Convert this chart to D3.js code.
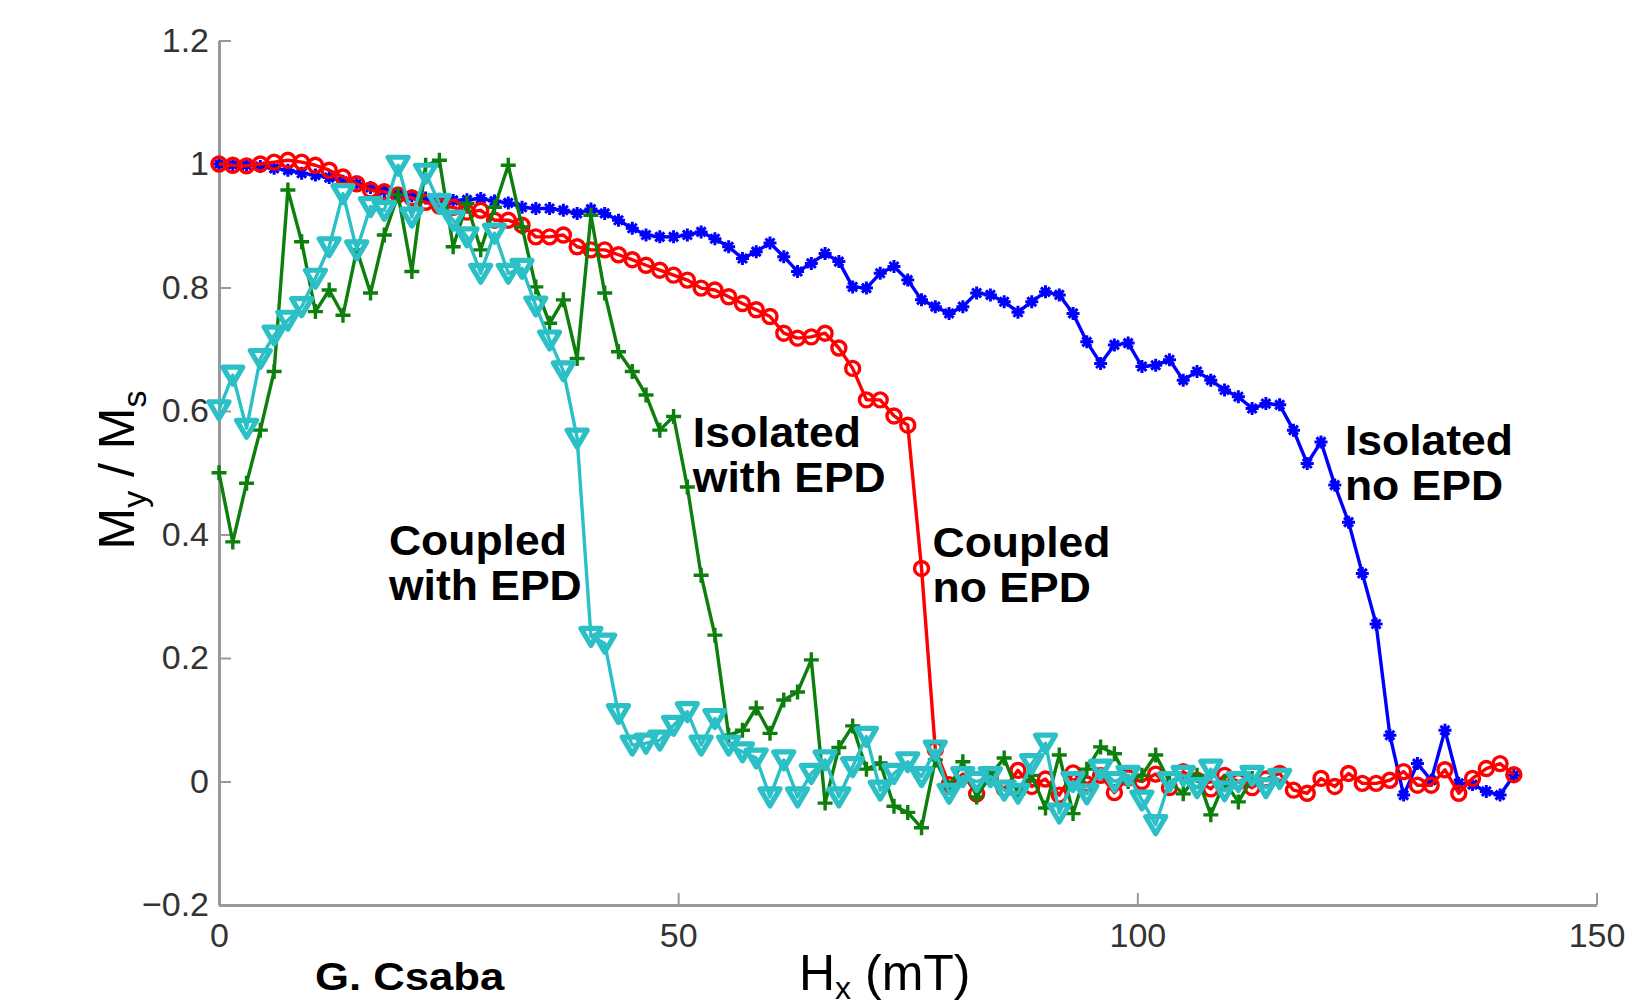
<!DOCTYPE html>
<html><head><meta charset="utf-8">
<script src="https://cdn.jsdelivr.net/npm/d3@7"></script>
<style>body{margin:0;background:#fff}svg{display:block}</style>
</head><body>
<svg id="chart" width="1637" height="1008"></svg>
<script>
// ---------- data ----------
const hx = [0,1.5,3,4.5,6,7.5,9,10.5,12,13.5,15,16.5,18,19.5,21,22.5,24,25.5,27,28.5,30,31.5,33,34.5,36,37.5,39,40.5,42,43.5,45,46.5,48,49.5,51,52.5,54,55.5,57,58.5,60,61.5,63,64.5,66,67.5,69,70.5,72,73.5,75,76.5,78,79.5,81,82.5,84,85.5,87,88.5,90,91.5,93,94.5,96,97.5,99,100.5,102,103.5,105,106.5,108,109.5,111,112.5,114,115.5,117,118.5,120,121.5,123,124.5,126,127.5,129,130.5,132,133.5,135,136.5,138,139.5,141];

const isolatedNoEPD = [1.000,0.999,0.998,0.996,0.993,0.990,0.985,0.982,0.978,0.972,
0.968,0.962,0.957,0.952,0.948,0.945,0.943,0.941,0.942,0.944,
0.940,0.937,0.930,0.928,0.928,0.925,0.920,0.927,0.920,0.909,
0.896,0.885,0.882,0.882,0.885,0.890,0.879,0.866,0.847,0.858,
0.872,0.850,0.826,0.839,0.855,0.842,0.801,0.799,0.823,0.834,
0.812,0.780,0.769,0.758,0.769,0.791,0.788,0.777,0.760,0.777,
0.793,0.788,0.758,0.712,0.677,0.707,0.710,0.672,0.674,0.683,
0.650,0.664,0.650,0.634,0.623,0.604,0.612,0.610,0.569,0.515,
0.550,0.480,0.420,0.337,0.255,0.075,-0.022,0.029,0.002,0.083,
-0.003,-0.005,-0.016,-0.022,0.010];

const coupledNoEPD = [1.000,0.998,0.997,1.000,1.003,1.006,1.003,0.998,0.990,0.979,
0.968,0.958,0.955,0.950,0.945,0.938,0.932,0.930,0.922,0.925,
0.909,0.909,0.901,0.882,0.882,0.885,0.866,0.861,0.861,0.853,
0.845,0.836,0.828,0.820,0.812,0.799,0.796,0.785,0.774,0.764,
0.753,0.726,0.718,0.720,0.726,0.702,0.669,0.618,0.618,0.592,
0.577,0.345,0.052,-0.005,0.012,-0.020,0.008,-0.012,0.018,-0.008,
0.004,-0.022,0.014,-0.004,0.010,-0.018,0.006,0.000,0.012,-0.010,
0.016,0.002,-0.012,0.010,0.000,-0.010,0.004,0.013,-0.014,-0.019,
0.005,-0.008,0.013,-0.003,-0.003,0.002,0.016,-0.006,-0.006,0.019,
-0.019,0.005,0.021,0.029,0.011];

const isolatedWithEPD = [0.500,0.388,0.483,0.569,0.664,0.958,0.874,0.761,0.796,0.755,
0.861,0.791,0.885,0.950,0.826,0.998,1.006,0.866,0.936,0.861,
0.930,0.998,0.898,0.801,0.742,0.780,0.685,0.917,0.791,0.696,
0.664,0.626,0.569,0.591,0.477,0.334,0.237,0.075,0.083,0.119,
0.078,0.132,0.145,0.197,-0.035,0.055,0.090,0.020,0.030,-0.040,
-0.050,-0.075,0.035,-0.010,0.032,-0.025,0.010,0.038,-0.020,0.010,
-0.043,0.043,-0.052,0.020,0.056,0.045,0.000,0.010,0.043,0.000,
-0.020,0.010,-0.054,0.000,-0.033,0.005];

const coupledWithEPD = [0.602,0.658,0.572,0.685,0.723,0.747,0.769,0.815,0.866,0.952,
0.861,0.931,0.925,0.998,0.914,0.985,0.936,0.909,0.882,0.823,
0.888,0.823,0.831,0.770,0.715,0.665,0.556,0.235,0.224,0.110,
0.059,0.062,0.067,0.091,0.113,0.059,0.102,0.059,0.048,0.038,
-0.025,0.035,-0.025,0.013,0.035,-0.025,0.024,0.073,-0.014,0.013,
0.032,0.008,0.051,-0.019,0.008,0.000,0.008,-0.014,-0.019,0.029,
0.062,-0.051,0.000,-0.020,0.020,0.000,0.010,-0.030,-0.070,0.000,
0.010,-0.010,0.020,-0.015,0.000,0.010,-0.010,0.005];

const xTicks = [0, 50, 100, 150];
const xTickLabels = ["0", "50", "100", "150"];
const yTicks = [-0.2, 0, 0.2, 0.4, 0.6, 0.8, 1, 1.2];
const yTickLabels = ["\u22120.2", "0", "0.2", "0.4", "0.6", "0.8", "1", "1.2"];

const labelIsolatedEPD = ["Isolated", "with EPD"];
const labelCoupledNo = ["Coupled", "no EPD"];
const labelCoupledEPD = ["Coupled", "with EPD"];
const labelIsolatedNo = ["Isolated", "no EPD"];
const authorText = "G. Csaba";

// ---------- layout ----------
const svg = d3.select("#chart");
const x = d3.scaleLinear().domain([0, 150]).range([219, 1596.5]);
const y = d3.scaleLinear().domain([-0.2, 1.2]).range([905, 40.5]);
const FONT = "'Liberation Sans', Arial, Helvetica, sans-serif";
const AXIS = "#999999";

// axes
const gy = svg.append("g").attr("transform", `translate(${x(0)},0)`)
  .call(d3.axisLeft(y).tickValues(yTicks).tickSize(-12).tickSizeOuter(0).tickPadding(10)
    .tickFormat((d, i) => yTickLabels[i]));
const gx = svg.append("g").attr("transform", `translate(0,${y(-0.2)})`)
  .call(d3.axisBottom(x).tickValues(xTicks).tickSize(-12).tickSizeOuter(0).tickPadding(18)
    .tickFormat((d, i) => xTickLabels[i]));
[gx, gy].forEach(g => {
  g.select(".domain").attr("stroke", AXIS).attr("stroke-width", 3);
  g.selectAll(".tick line").attr("stroke", AXIS).attr("stroke-width", 2);
  g.selectAll(".tick text").attr("fill", "#333").style("font-family", FONT).style("font-size", "34px");
});

// series
const series = [
  {vals: isolatedNoEPD, color: "#0000ff", marker: "star"},
  {vals: coupledNoEPD, color: "#ff0000", marker: "circle"},
  {vals: isolatedWithEPD, color: "#0c7f0c", marker: "plus"},
  {vals: coupledWithEPD, color: "#2bbfc6", marker: "tri"}
];
const line = d3.line().x(d => x(d[0])).y(d => y(d[1]));
series.forEach(s => {
  const pts = s.vals.map((v, i) => [hx[i], v]);
  const g = svg.append("g");
  g.append("path").attr("d", line(pts)).attr("fill", "none")
    .attr("stroke", s.color).attr("stroke-width", 3.4).attr("stroke-linejoin", "round");
  const m = g.selectAll("g.m").data(pts).join("g").attr("class", "m")
    .attr("transform", d => `translate(${x(d[0])},${y(d[1])})`);
  if (s.marker === "circle") {
    m.append("circle").attr("r", 7).attr("fill", "none").attr("stroke", s.color).attr("stroke-width", 3.4);
  } else if (s.marker === "plus") {
    m.append("path").attr("d", "M-7.5,0H7.5M0,-7.5V7.5").attr("stroke", s.color).attr("stroke-width", 3.4);
  } else if (s.marker === "star") {
    m.append("path").attr("d", "M-6.5,0H6.5M0,-6.5V6.5M-4.5,-4.5L4.5,4.5M-4.5,4.5L4.5,-4.5")
      .attr("stroke", s.color).attr("stroke-width", 3);
  } else {
    m.append("path").attr("d", "M-10,-8L10,-8L0,9Z").attr("fill", "none")
      .attr("stroke", s.color).attr("stroke-width", 5.2).attr("stroke-linejoin", "round");
  }
});

// annotations
function label(lines, xv, yv, size, sx) {
  const t = svg.append("text")
    .attr("transform", `translate(${x(xv)},${y(yv)}) scale(${sx},1)`)
    .style("font-family", FONT).style("font-weight", "bold").style("font-size", size + "px")
    .attr("fill", "#000");
  lines.forEach((l, i) => t.append("tspan").attr("x", 0).attr("y", i * 45).text(l));
}
label(labelIsolatedEPD, 51.6, 0.542, 42, 1.06);
label(labelCoupledNo, 77.7, 0.364, 42, 1.06);
label(labelCoupledEPD, 18.5, 0.367, 42, 1.06);
label(labelIsolatedNo, 122.6, 0.529, 42, 1.06);

// author
svg.append("text").attr("transform", "translate(315,990) scale(1.12,1)")
  .style("font-family", FONT).style("font-weight", "bold").style("font-size", "39px")
  .attr("fill", "#000").text(authorText);

// x label
const xl = svg.append("text").attr("x", 799).attr("y", 990)
  .style("font-family", FONT).style("font-size", "50px").attr("fill", "#000");
xl.append("tspan").text("H");
xl.append("tspan").attr("dy", 9).style("font-size", "32px").text("x");
xl.append("tspan").attr("dy", -9).text(" (mT)");

// y label
const yl = svg.append("text").attr("transform", "translate(134,470) rotate(-90)")
  .attr("text-anchor", "middle")
  .style("font-family", FONT).style("font-size", "50px").attr("fill", "#000");
yl.append("tspan").text("M");
yl.append("tspan").attr("dy", 12).style("font-size", "34px").text("y");
yl.append("tspan").attr("dy", -12).text(" / M");
yl.append("tspan").attr("dy", 12).style("font-size", "34px").text("s");
</script>
</body></html>
